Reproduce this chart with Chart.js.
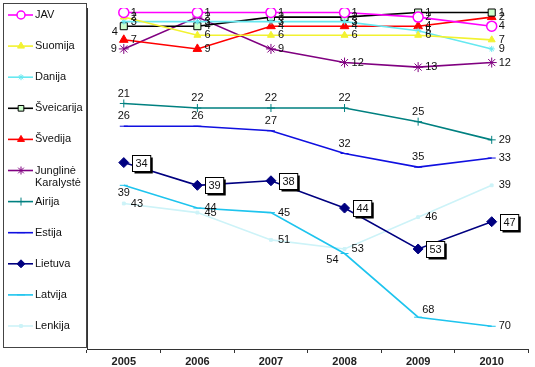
<!DOCTYPE html>
<html>
<head>
<meta charset="utf-8">
<script src="https://cdn.jsdelivr.net/npm/chart.js@4.4.0/dist/chart.umd.min.js"></script>
<style>
  html, body { margin: 0; padding: 0; background: #fff; }
  #wrap { width: 535px; height: 367px; position: relative; }
</style>
</head>
<body>
<div id="wrap"><canvas id="chart"></canvas></div>
<script>
// Years on the x axis
const years = ['2005', '2006', '2007', '2008', '2009', '2010'];

// Rank of each country per year (1 = best, drawn at the top)
const jav = [1, 1, 1, 1, 2, 4];
const suomija = [2, 6, 6, 6, 6, 7];
const danija = [3, 3, 3, 3, 5, 9];
const sveicarija = [4, 4, 2, 2, 1, 1];
const svedija = [7, 9, 4, 4, 4, 2];
const jungtine = [9, 2, 9, 12, 13, 12];
const airija = [21, 22, 22, 22, 25, 29];
const estija = [26, 26, 27, 32, 35, 33];
const lietuva = [34, 39, 38, 44, 53, 47];
const latvija = [39, 44, 45, 54, 68, 70];
const lenkija = [43, 45, 51, 53, 46, 39];

const FONT = "'Liberation Sans', Arial, sans-serif";

// Helper to build one line series
function series(label, data, color, style, extra) {
  return Object.assign({
    label: label,
    data: data,
    borderColor: color,
    backgroundColor: color,
    borderWidth: 1.6,
    tension: 0,
    pointStyle: style,
    pointRadius: 4,
    pointBackgroundColor: color,
    pointBorderColor: color,
    pointBorderWidth: 1,
    labelPos: 'right'
  }, extra || {});
}

const datasets = [
  series('JAV', jav, '#ff00ff', 'circle', { pointBackgroundColor: '#ffffff', pointRadius: 5, pointBorderWidth: 1.5 }),
  series('Suomija', suomija, '#f2f230', 'triangle'),
  series('Danija', danija, '#66e8f0', 'star', { pointRadius: 3 }),
  series('Šveicarija', sveicarija, '#000000', 'rect', { pointBackgroundColor: '#ccffcc', pointRadius: 5,
    labelPos: ['belowLeft', 'right', 'right', 'right', 'right', 'right'] }),
  series('Švedija', svedija, '#ff0000', 'triangle', { pointRadius: 5 }),
  series(['Junglinė', 'Karalystė'], jungtine, '#800080', 'star', { pointRadius: 5,
    labelPos: ['left', 'right', 'right', 'right', 'right', 'right'] }),
  series('Airija', airija, '#008080', 'cross', { labelPos: ['above', 'above', 'above', 'above', 'above', 'right'] }),
  series('Estija', estija, '#1010e0', 'line', { labelPos: ['above', 'above', 'above', 'above', 'above', 'right'] }),
  series('Lietuva', lietuva, '#000080', 'rectRot', { pointRadius: 5, labelPos: 'box' }),
  series('Latvija', latvija, '#1ec4ee', 'line',
    { labelPos: ['below', 'right', 'right', 'belowLeft', 'aboveRight', 'right'] }),
  series('Lenkija', lenkija, '#cdf3f8', 'rect', { pointRadius: 2 })
];

// Draws the boxed legend on the left side
const sideLegend = {
  id: 'sideLegend',
  afterDraw(chart) {
    const ctx = chart.ctx;
    ctx.save();
    ctx.strokeStyle = '#444';
    ctx.lineWidth = 1;
    ctx.strokeRect(3.5, 3.5, 83, 344);
    ctx.font = '11px ' + FONT;
    ctx.textBaseline = 'middle';
    chart.data.datasets.forEach((ds, i) => {
      const y = 15 + i * 31.1;
      ctx.strokeStyle = ds.borderColor;
      ctx.lineWidth = 1.6;
      ctx.beginPath();
      ctx.moveTo(8, y);
      ctx.lineTo(33, y);
      ctx.stroke();
      ctx.fillStyle = ds.pointBackgroundColor;
      ctx.strokeStyle = ds.pointBorderColor;
      ctx.lineWidth = ds.pointBorderWidth;
      Chart.helpers.drawPoint(ctx, {
        pointStyle: ds.pointStyle, radius: Math.min(ds.pointRadius, 4), rotation: 0, borderWidth: ds.pointBorderWidth
      }, 21, y);
      ctx.fillStyle = '#111';
      const lines = Array.isArray(ds.label) ? ds.label : [ds.label];
      lines.forEach((t, k) => ctx.fillText(t, 35, y + k * 12));
    });
    ctx.restore();
  }
};

// Draws the rank value next to each point
const pointLabels = {
  id: 'pointLabels',
  afterDatasetsDraw(chart) {
    const ctx = chart.ctx;
    ctx.save();
    ctx.font = '11px ' + FONT;
    ctx.textBaseline = 'middle';
    chart.data.datasets.forEach((ds, i) => {
      const meta = chart.getDatasetMeta(i);
      meta.data.forEach((pt, j) => {
        const txt = String(ds.data[j]);
        const pos = Array.isArray(ds.labelPos) ? ds.labelPos[j] : ds.labelPos;
        ctx.fillStyle = '#111';
        if (pos === 'box') {
          const w = ctx.measureText(txt).width + 6;
          const bx = Math.round(pt.x + 8) + 0.5;
          const by = Math.round(pt.y - 8) + 0.5;
          ctx.fillStyle = '#000';
          ctx.fillRect(bx + 2, by + 2, w, 16);
          ctx.fillStyle = '#fff';
          ctx.fillRect(bx, by, w, 16);
          ctx.strokeStyle = '#000';
          ctx.lineWidth = 1;
          ctx.strokeRect(bx, by, w, 16);
          ctx.textAlign = 'center';
          ctx.fillStyle = '#111';
          ctx.fillText(txt, bx + w / 2, by + 8.5);
          return;
        }
        let dx = 7, dy = 0, align = 'left';
        if (pos === 'above') { dx = 0; dy = -10; align = 'center'; }
        else if (pos === 'below') { dx = 0; dy = 8; align = 'center'; }
        else if (pos === 'left') { dx = -7; align = 'right'; }
        else if (pos === 'belowLeft') { dx = -6; dy = 6; align = 'right'; }
        else if (pos === 'aboveRight') { dx = 4; dy = -7; align = 'left'; }
        ctx.textAlign = align;
        ctx.fillText(txt, pt.x + dx, pt.y + dy);
      });
    });
    ctx.restore();
  }
};

new Chart(document.getElementById('chart'), {
  type: 'line',
  data: { labels: years, datasets: datasets },
  options: {
    responsive: true,
    maintainAspectRatio: false,
    devicePixelRatio: 1,
    animation: false,
    layout: { padding: { left: 87, right: 4, top: 8, bottom: 0 } },
    plugins: {
      legend: { display: false },
      tooltip: { enabled: false }
    },
    scales: {
      x: {
        type: 'category',
        offset: true,
        grid: { display: true, drawOnChartArea: false, offset: true, tickLength: 4, color: '#333' },
        border: { display: true, color: '#333', width: 1 },
        ticks: { color: '#222', padding: 2, font: { family: FONT, size: 11, weight: 'bold' } },
        afterFit: (s) => { s.height = 18; }
      },
      y: {
        reverse: true,
        min: 0,
        max: 75,
        grid: { display: false },
        ticks: { display: false },
        border: { display: true, color: '#333', width: 1 },
        afterFit: (s) => { s.width = 0; }
      }
    }
  },
  plugins: [sideLegend, pointLabels]
});
</script>
</body>
</html>
